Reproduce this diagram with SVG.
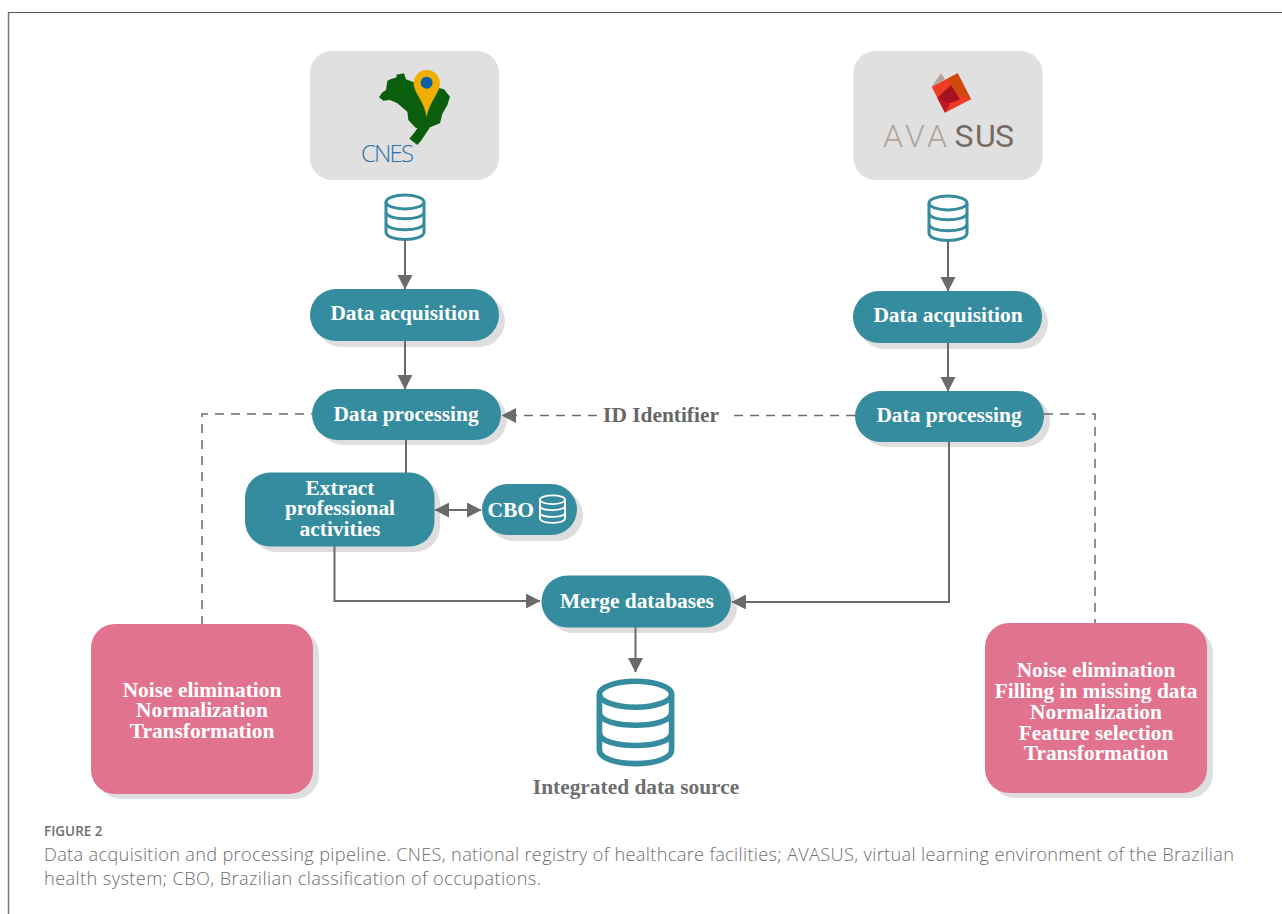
<svg xmlns="http://www.w3.org/2000/svg" width="1282" height="914" viewBox="0 0 1282 914">
<style>
.t{font-family:"Liberation Serif","Times New Roman",serif;font-weight:700;fill:#fff;text-anchor:middle;font-size:21.4px}
.teal{fill:#368c9f}
.pink{fill:#e2738f}
.sh{fill:#dedede}
.logo{fill:#e0e0e0}
.c{fill:none;stroke:#6a6a6a;stroke-width:2}
.d{fill:none;stroke:#6a6a6a;stroke-width:1.5;stroke-dasharray:9 7}
.db{fill:none;stroke:#368c9f;stroke-width:3}
.cap{font-family:"Open Sans","Noto Sans",sans-serif;fill:#6d6e71;font-size:18.2px;font-weight:300}
</style>
<defs>
<marker id="a" markerUnits="userSpaceOnUse" markerWidth="15" markerHeight="16" refX="14" refY="7.500" orient="auto-start-reverse"><path d="M0 0L14.500 7.500L0 15Z" fill="#6a6a6a"/></marker>
<g id="dbi"><path d="M-19 -15V15C-19 25 19 25 19 15V-15"/><ellipse cx="0" cy="-15" rx="19" ry="7"/><path d="M-19 -5C-19 4 19 4 19 -5M-19 6C-19 15 19 15 19 6"/></g>
</defs>
<path d="M8.500 914V12.500" fill="none" stroke="#777" stroke-width="1.500"/>
<path d="M8 12.500H1282" fill="none" stroke="#555" stroke-width="1"/>
<g id="cnes">
<rect class="logo" x="310" y="51" width="189" height="129" rx="22"/>
<g transform="translate(300 40) scale(.33333)">
<path fill="#0b5e0b" d="M237 172L246 158 258 150 262 122 272 118 290 112 289 104 312 100 318 118 345 128 420 145 432 148 450 170 442 195 427 222 420 250 390 262 378 280 365 300 352 315 328 296 345 275 352 265 345 262 325 240 322 215 292 190 270 180 250 182Z"/>
<path fill="#f0ae00" d="M380 90C404 90 420 108 420 130C420 160 390 180 380 232C372 180 341 160 341 130C341 108 358 90 380 90Z"/>
<circle cx="380" cy="128" r="18" fill="#0f61a5"/>
</g>
<text x="361" y="162" font-family="'Open Sans',sans-serif" font-size="24" font-weight="300" fill="#2c71a8" textLength="53">CNES</text>
</g>
<g id="avasus">
<rect class="logo" x="853.500" y="51" width="189" height="129" rx="22"/>
<g transform="translate(845 40) scale(.33333)">
<path fill="#b0a49d" d="M260 140L288 100 300 118Z"/>
<path fill="#ee3b26" d="M260 140L338 100 378 178 300 218Z"/>
<path fill="#cf4a0c" d="M310 115L338 100 378 178 335 165Z"/>
<path fill="#a5121f" d="M280 170L318 135 345 178 300 195Z"/>
<path fill="#bd1a2a" d="M275 170L315 192 300 218Z"/>
</g>
<text y="147" font-family="Roboto,sans-serif" font-weight="300" font-size="32" fill="#b0a49d" x="883 905 927">AVA</text>
<text y="147" font-family="Roboto,sans-serif" font-size="32" fill="#766a63" x="954.500 975 995">SUS</text>
</g>
<use href="#dbi" class="db" x="405" y="217"/>
<use href="#dbi" class="db" x="948" y="218"/>
<g id="acq1"><rect class="sh" x="316" y="295" width="189" height="52" rx="26"/><rect class="teal" x="310" y="289" width="189" height="52" rx="26"/><text class="t" x="405" y="319.500">Data acquisition</text></g>
<g id="acq2"><rect class="sh" x="859" y="297" width="189" height="52" rx="26"/><rect class="teal" x="853" y="291" width="189" height="52" rx="26"/><text class="t" x="948" y="321.500">Data acquisition</text></g>
<g id="proc1"><rect class="sh" x="318" y="394" width="189" height="51" rx="25.500"/><rect class="teal" x="312" y="389" width="189" height="51" rx="25.500"/><text class="t" x="406" y="420.500">Data processing</text></g>
<g id="proc2"><rect class="sh" x="861" y="396" width="189" height="51" rx="25.500"/><rect class="teal" x="855" y="391" width="189" height="51" rx="25.500"/><text class="t" x="949" y="421.500">Data processing</text></g>
<g id="extract"><rect class="sh" x="251" y="478" width="189" height="74" rx="25"/><rect class="teal" x="245" y="472.500" width="189.500" height="74" rx="25"/><text class="t"><tspan x="340" y="494.500">Extract</tspan><tspan x="340" y="515">professional</tspan><tspan x="340" y="536">activities</tspan></text></g>
<g id="cbo"><rect class="sh" x="488" y="490" width="95" height="51" rx="25.500"/><rect class="teal" x="482" y="484" width="95" height="51" rx="25.500"/><text class="t" x="487.500" y="517" style="text-anchor:start;font-size:21.500px">CBO</text><use href="#dbi" transform="translate(552.500 509) scale(.66 .62)" fill="none" stroke="#fff" stroke-width="2.800"/></g>
<g id="merge"><rect class="sh" x="547" y="581" width="190" height="52" rx="26"/><rect class="teal" x="541.500" y="575.500" width="189.500" height="52" rx="26"/><text class="t" x="637" y="607.500">Merge databases</text></g>
<use href="#dbi" transform="translate(635.500 722) scale(1.9 1.85)" fill="none" stroke="#368c9f" stroke-width="3"/>
<g id="pink1"><rect class="sh" x="97" y="630" width="222" height="169" rx="24"/><rect class="pink" x="91" y="624" width="222" height="170" rx="24"/><text class="t"><tspan x="202" y="696.500">Noise elimination</tspan><tspan x="202" y="717">Normalization</tspan><tspan x="202" y="737.500">Transformation</tspan></text></g>
<g id="pink2"><rect class="sh" x="991" y="629" width="222" height="169" rx="24"/><rect class="pink" x="985" y="623" width="222" height="170" rx="24"/><text class="t"><tspan x="1096" y="677">Noise elimination</tspan><tspan x="1096" y="698">Filling in missing data</tspan><tspan x="1096" y="719">Normalization</tspan><tspan x="1096" y="740">Feature selection</tspan><tspan x="1096" y="760">Transformation</tspan></text></g>
<g id="connectors">
<path class="c" marker-end="url(#a)" d="M405 240V289"/>
<path class="c" marker-end="url(#a)" d="M405 341V389"/>
<path class="c" d="M406 440V473"/>
<path class="c" marker-start="url(#a)" marker-end="url(#a)" d="M435 510H481"/>
<path class="c" marker-end="url(#a)" d="M334.500 546V601H540"/>
<path class="c" marker-end="url(#a)" d="M948 241V291"/>
<path class="c" marker-end="url(#a)" d="M948 343V391"/>
<path class="c" marker-end="url(#a)" d="M949 442V602H732"/>
<path class="c" marker-end="url(#a)" d="M635.500 627V672"/>
<path class="d" style="stroke-dashoffset:8" d="M312 414H202V624"/>
<path class="d" d="M1044 414H1095V623"/>
<path class="d" marker-end="url(#a)" d="M597 415.500H502"/>
<path class="d" d="M855 415.500H731"/>
</g>
<text class="t" x="661" y="421.500" style="fill:#666">ID Identifier</text>
<text class="t" x="636" y="793.500" style="fill:#6e6e6e">Integrated data source</text>
<g class="cap">
<text x="44" y="836" style="font-size:13.500px;font-weight:600">FIGURE 2</text>
<text x="44" y="860.500" textLength="1190">Data acquisition and processing pipeline. CNES, national registry of healthcare facilities; AVASUS, virtual learning environment of the Brazilian</text>
<text x="44" y="884.500" textLength="497">health system; CBO, Brazilian classification of occupations.</text>
</g>
</svg>
